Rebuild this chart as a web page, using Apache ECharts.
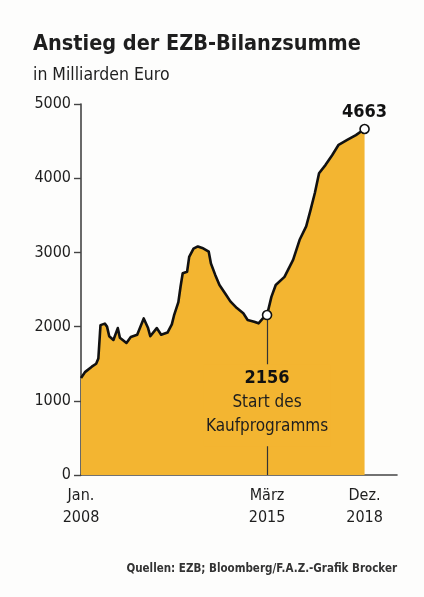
<!DOCTYPE html>
<html>
<head>
<meta charset="utf-8">
<script src="https://cdn.jsdelivr.net/npm/echarts@6/dist/echarts.min.js"></script>
<style>
html,body{margin:0;padding:0;background:#fdfdfc;}
#c{width:424px;height:597px;}
</style>
</head>
<body>
<div id="c"></div>
<script>
var titleText = 'Anstieg der EZB-Bilanzsumme';
var subtitleText = 'in Milliarden Euro';
var sourceText = 'Quellen: EZB; Bloomberg/F.A.Z.-Grafik Brocker';

var months = ['2008-01','2008-03','2008-06','2008-08','2008-09','2008-10','2008-12',
  '2009-01','2009-02','2009-04','2009-06','2009-07','2009-10','2009-12',
  '2010-03','2010-06','2010-08','2010-09','2010-12',
  '2011-02','2011-05','2011-07','2011-08','2011-10','2011-11','2011-12',
  '2012-02','2012-03','2012-05','2012-07','2012-09','2012-12',
  '2013-01','2013-03','2013-05','2013-08','2013-10',
  '2014-01','2014-04','2014-06','2014-09','2014-11',
  '2015-01','2015-03','2015-05','2015-07','2015-11',
  '2016-03','2016-06','2016-09','2016-11',
  '2017-01','2017-03','2017-06','2017-09','2017-12',
  '2018-04','2018-08','2018-12'];
var values = [1307,1390,1460,1500,1570,2020,2040,
  2000,1870,1820,1980,1850,1780,1860,
  1890,2110,1980,1870,1980,
  1890,1920,2030,2150,2330,2540,2720,
  2740,2940,3050,3080,3060,3010,
  2850,2700,2560,2430,2340,
  2250,2180,2090,2066,2044,
  2110,2156,2400,2560,2670,
  2900,3170,3350,3570,
  3800,4066,4180,4310,4450,
  4515,4580,4663];

var yTicks = [0,1000,2000,3000,4000,5000];
var xLabelMonths = ['2008-01','2015-03','2018-12'];
var xLabelTexts = ['Jan.\n2008','März\n2015','Dez.\n2018'];
var startMonth = '2015-03';
var startValue = 2156;
var startLines = ['Start des','Kaufprogramms'];
var endMonth = '2018-12';
var endValue = 4663;

function ts(m){ var p=m.split('-'); return Date.UTC(+p[0], +p[1]-1, 1); }

var seriesData = months.map(function(m,i){ return [ts(m), values[i]]; });
var xLabelTs = xLabelMonths.map(ts);

var FONT = "'DejaVu Sans Condensed','DejaVu Sans',sans-serif";
var FILL = '#F3B531';
var INK = '#1e1e1e';

var chart = echarts.init(document.getElementById('c'), null, {renderer:'canvas'});
chart.setOption({
  backgroundColor: '#fdfdfc',
  animation: false,
  title: [
    {text: titleText, left: 28, top: 28, padding: 5, textStyle: {fontFamily: FONT, fontSize: 21.5, fontWeight: 'bold', color: INK}},
    {text: subtitleText, left: 28, top: 61, padding: 5, textStyle: {fontFamily: FONT, fontSize: 17.5, fontWeight: 'normal', color: INK}},
    {text: sourceText, right: 22, top: 558, padding: 5, textStyle: {fontFamily: FONT, fontSize: 11.5, fontWeight: 'bold', color: '#333'}}
  ],
  grid: {left: 81, right: 27, top: 104, bottom: 122, containLabel: false},
  xAxis: {
    type: 'value',
    min: ts('2008-01'),
    max: ts('2020-03'),
    axisLine: {show: true, onZero: false, lineStyle: {color: '#444', width: 1.6}},
    axisTick: {show: false},
    splitLine: {show: false},
    axisLabel: {
      customValues: xLabelTs,
      formatter: function(v){
        for (var i=0;i<xLabelTs.length;i++){ if (Math.abs(v-xLabelTs[i])<86400000) return xLabelTexts[i]; }
        return '';
      },
      fontFamily: FONT, fontSize: 16, color: INK, lineHeight: 22, margin: 10,
      hideOverlap: false
    }
  },
  yAxis: {
    type: 'value',
    min: 0, max: 5000, interval: 1000,
    axisLine: {show: true, lineStyle: {color: '#444', width: 1.6}},
    axisTick: {show: true, length: 7, lineStyle: {color: '#444', width: 1.4}},
    splitLine: {show: false},
    axisLabel: {fontFamily: FONT, fontSize: 16, color: INK, margin: 10,
      formatter: function(v){ return String(v); }}
  },
  series: [
    {
      type: 'line',
      data: seriesData,
      showSymbol: false,
      symbol: 'none',
      smooth: false,
      z: 2,
      lineStyle: {color: '#111', width: 2.6, join: 'round'},
      areaStyle: {color: FILL, opacity: 1},
      markLine: {
        silent: true,
        symbol: 'none',
        label: {show: false},
        lineStyle: {color: '#333', width: 1.2, type: 'solid'},
        data: [[{coord: [ts(startMonth), startValue]}, {coord: [ts(startMonth), 0]}]]
      }
    },
    {
      type: 'scatter',
      z: 10,
      symbol: 'circle',
      symbolSize: 9,
      itemStyle: {color: '#fff', borderColor: '#111', borderWidth: 1.6, opacity: 1},
      data: [
        {value: [ts(startMonth), startValue], label: {
          show: true, position: 'bottom', distance: 44,
          formatter: '{a|' + startValue + '}\n{b|' + startLines.join('}\n{b|') + '}',
          backgroundColor: FILL, padding: [2, 2, 8, 2],
          rich: {
            a: {fontFamily: FONT, fontSize: 18, fontWeight: 'bold', color: '#111', lineHeight: 24, align: 'center'},
            b: {fontFamily: FONT, fontSize: 17, color: INK, lineHeight: 24, align: 'center'}
          }
        }},
        {value: [ts(endMonth), endValue], label: {
          show: true, position: 'top', distance: 2,
          formatter: String(endValue),
          fontFamily: FONT, fontSize: 18, fontWeight: 'bold', color: '#111'
        }}
      ]
    }
  ]
});
</script>
</body>
</html>
